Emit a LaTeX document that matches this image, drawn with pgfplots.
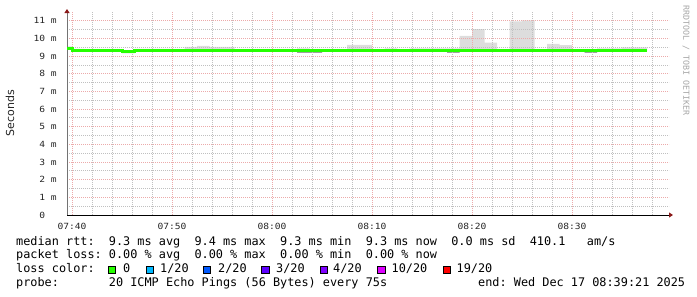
\documentclass[border=0pt]{standalone}
\usepackage{fontspec}
\usepackage{pgfplots}
\usepackage{pgfplotstable}
\pgfplotsset{compat=1.18}
\usepgfplotslibrary{fillbetween}
\usetikzlibrary{arrows.meta}
\newfontfamily\mono{DejaVu Sans Mono}
\newfontfamily\ticksf[FakeStretch=1.13]{DejaVu Sans Mono}
\newfontfamily\sansf{DejaVu Sans}
\definecolor{lossA}{HTML}{26FF00}
\definecolor{lossB}{HTML}{00B8FF}
\definecolor{lossC}{HTML}{0059FF}
\definecolor{lossD}{HTML}{5E00FF}
\definecolor{lossE}{HTML}{7E00FF}
\definecolor{lossF}{HTML}{DD00FF}
\definecolor{lossG}{HTML}{FF0000}
\definecolor{smokeL}{HTML}{DDDDDD}
\definecolor{smokeD}{HTML}{A0A0A0}
\definecolor{mgrid}{RGB}{236,170,170}
\definecolor{ngrid}{RGB}{192,192,192}
\definecolor{arrowred}{HTML}{8B1A1A}
\newcommand{\legfont}{\mono\fontsize{11.85bp}{13.7bp}\selectfont}
\newcommand{\tickfont}{\ticksf\fontsize{8.5bp}{10bp}\selectfont}
\pgfplotstableread{
x lo hi med dlo
-0.50 9.35 9.55 9.42 9.42
0.00 9.25 9.41 9.30 9.30
1.25 9.25 9.33 9.30 9.30
2.50 9.25 9.33 9.30 9.30
3.75 9.25 9.33 9.30 9.30
5.00 9.16 9.33 9.29 9.29
6.25 9.25 9.41 9.30 9.30
7.50 9.25 9.41 9.30 9.30
8.75 9.25 9.41 9.30 9.30
10.00 9.25 9.33 9.30 9.30
11.25 9.25 9.52 9.31 9.31
12.50 9.25 9.58 9.31 9.31
13.75 9.25 9.52 9.31 9.31
15.00 9.25 9.52 9.31 9.31
16.25 9.25 9.33 9.30 9.30
17.50 9.25 9.33 9.30 9.30
18.75 9.25 9.33 9.30 9.30
20.00 9.25 9.33 9.30 9.30
21.25 9.25 9.33 9.30 9.30
22.50 9.20 9.44 9.30 9.19
23.75 9.20 9.33 9.30 9.19
25.00 9.25 9.33 9.30 9.30
26.25 9.25 9.33 9.30 9.30
27.50 9.25 9.64 9.31 9.31
28.75 9.25 9.64 9.31 9.31
30.00 9.25 9.33 9.30 9.30
31.25 9.25 9.44 9.30 9.30
32.50 9.25 9.33 9.30 9.30
33.75 9.25 9.44 9.30 9.30
35.00 9.25 9.44 9.30 9.30
36.25 9.25 9.44 9.30 9.30
37.50 9.20 9.44 9.30 9.19
38.75 9.25 10.15 9.31 9.31
40.00 9.25 10.53 9.31 9.31
41.25 9.25 9.77 9.30 9.30
42.50 9.25 9.33 9.30 9.30
43.75 9.25 10.97 9.31 9.31
45.00 9.25 11.03 9.31 9.31
46.25 9.25 9.33 9.30 9.30
47.50 9.25 9.69 9.30 9.30
48.75 9.25 9.62 9.30 9.30
50.00 9.25 9.33 9.30 9.30
51.25 9.20 9.33 9.30 9.19
52.50 9.25 9.44 9.30 9.30
53.75 9.25 9.44 9.30 9.30
55.00 9.25 9.49 9.30 9.30
56.25 9.25 9.49 9.30 9.30
57.50 9.25 9.49 9.30 9.30
}\smoke
\begin{document}
\begin{tikzpicture}
\begin{axis}[
  at={(67bp,-215bp)}, anchor=south west,
  scale only axis, width=602bp, height=203bp,
  xmin=-0.5, xmax=59.7, ymin=0, ymax=11.5,
  set layers,
  axis lines=left,
  x axis line style={draw=black, line width=1bp, shorten >=-4bp, -{Triangle[length=4bp,width=5bp,color=arrowred]}},
  y axis line style={draw=gray!90!black, line width=1bp, shorten >=-3bp, -{Triangle[length=4bp,width=5bp,color=arrowred]}},
  xtick={0,10,20,30,40,50},
  xticklabels={07:40,07:50,08:00,08:10,08:20,08:30},
  minor xtick={2,4,6,8,12,14,16,18,22,24,26,28,32,34,36,38,42,44,46,48,52,54,56,58},
  ytick={0,1,2,3,4,5,6,7,8,9,10,11},
  yticklabels={0\phantom{~m},1~m,2~m,3~m,4~m,5~m,6~m,7~m,8~m,9~m,10~m,11~m},
  minor ytick={0.5,1.5,2.5,3.5,4.5,5.5,6.5,7.5,8.5,9.5,10.5},
  grid=both,
  major grid style={color=mgrid, line width=0.9bp, dash pattern=on 1bp off 1bp},
  minor grid style={color=ngrid, line width=0.9bp, dash pattern=on 1bp off 1bp},
  tick style={draw=none},
  ticklabel style={font=\tickfont, text=black!85},
  yticklabel style={anchor=east, inner sep=0pt, xshift=-8bp},
  xticklabel style={anchor=north, inner sep=0pt, yshift=-6bp},
  fill between/on layer=axis background,
]
\addplot[const plot, draw=none, name path=hi] table[x=x, y=hi] {\smoke};
\addplot[const plot, draw=none, name path=lo] table[x=x, y=lo] {\smoke};
\addplot[const plot, draw=none, name path=dlo] table[x=x, y=dlo] {\smoke};
\addplot[const plot, draw=none, name path=med] table[x=x, y=med] {\smoke};
\addplot[fill=smokeL, draw=none] fill between[of=hi and lo];
\addplot[fill=smokeD, draw=none] fill between[of=med and dlo];
\addplot[const plot, color=lossA, line width=3bp] table[x=x, y=med] {\smoke};
\end{axis}
\node[rotate=90, font=\sansf\fontsize{11bp}{13bp}\selectfont, text=black!85] at (10bp,-113bp) {Seconds};
\node[rotate=-90, anchor=west, inner sep=0pt, font=\mono\fontsize{8.3bp}{10bp}\selectfont, text=black!35] at (686bp,-5bp) {RRDTOOL / TOBI OETIKER};
\begin{scope}[every node/.style={anchor=base west, inner sep=0pt, font=\legfont}]
\node at (16bp,-245bp) {median~rtt:~~9.3~ms~avg~~9.4~ms~max~~9.3~ms~min~~9.3~ms~now~~0.0~ms~sd~~410.1~~~am/s};
\node at (16bp,-258.7bp) {packet~loss:~0.00~\%~avg~~0.00~\%~max~~0.00~\%~min~~0.00~\%~now};
\node at (16bp,-272.4bp) {loss~color:};
\node at (123bp,-272.4bp) {0};
\node at (160bp,-272.4bp) {1/20};
\node at (218bp,-272.4bp) {2/20};
\node at (276bp,-272.4bp) {3/20};
\node at (333bp,-272.4bp) {4/20};
\node at (391.5bp,-272.4bp) {10/20};
\node at (456.5bp,-272.4bp) {19/20};
\node at (16bp,-286.1bp) {probe:~~~~~~~20~ICMP~Echo~Pings~(56~Bytes)~every~75s};
\node at (478bp,-286.1bp) {end:~Wed~Dec~17~08:39:21~2025};
\end{scope}
\begin{scope}[line width=0.8bp, draw=black]
\filldraw[fill=lossA] (108.5bp,-273.2bp) rectangle ++(7.2bp,7.2bp);
\filldraw[fill=lossB] (146.2bp,-273.2bp) rectangle ++(7.2bp,7.2bp);
\filldraw[fill=lossC] (203.5bp,-273.2bp) rectangle ++(7.2bp,7.2bp);
\filldraw[fill=lossD] (261.8bp,-273.2bp) rectangle ++(7.2bp,7.2bp);
\filldraw[fill=lossE] (320bp,-273.2bp) rectangle ++(7.2bp,7.2bp);
\filldraw[fill=lossF] (377.8bp,-273.2bp) rectangle ++(7.2bp,7.2bp);
\filldraw[fill=lossG] (443bp,-273.2bp) rectangle ++(7.2bp,7.2bp);
\end{scope}
\pgfresetboundingbox
\useasboundingbox (0,0) rectangle (697bp,-297bp);
\end{tikzpicture}
\end{document}
